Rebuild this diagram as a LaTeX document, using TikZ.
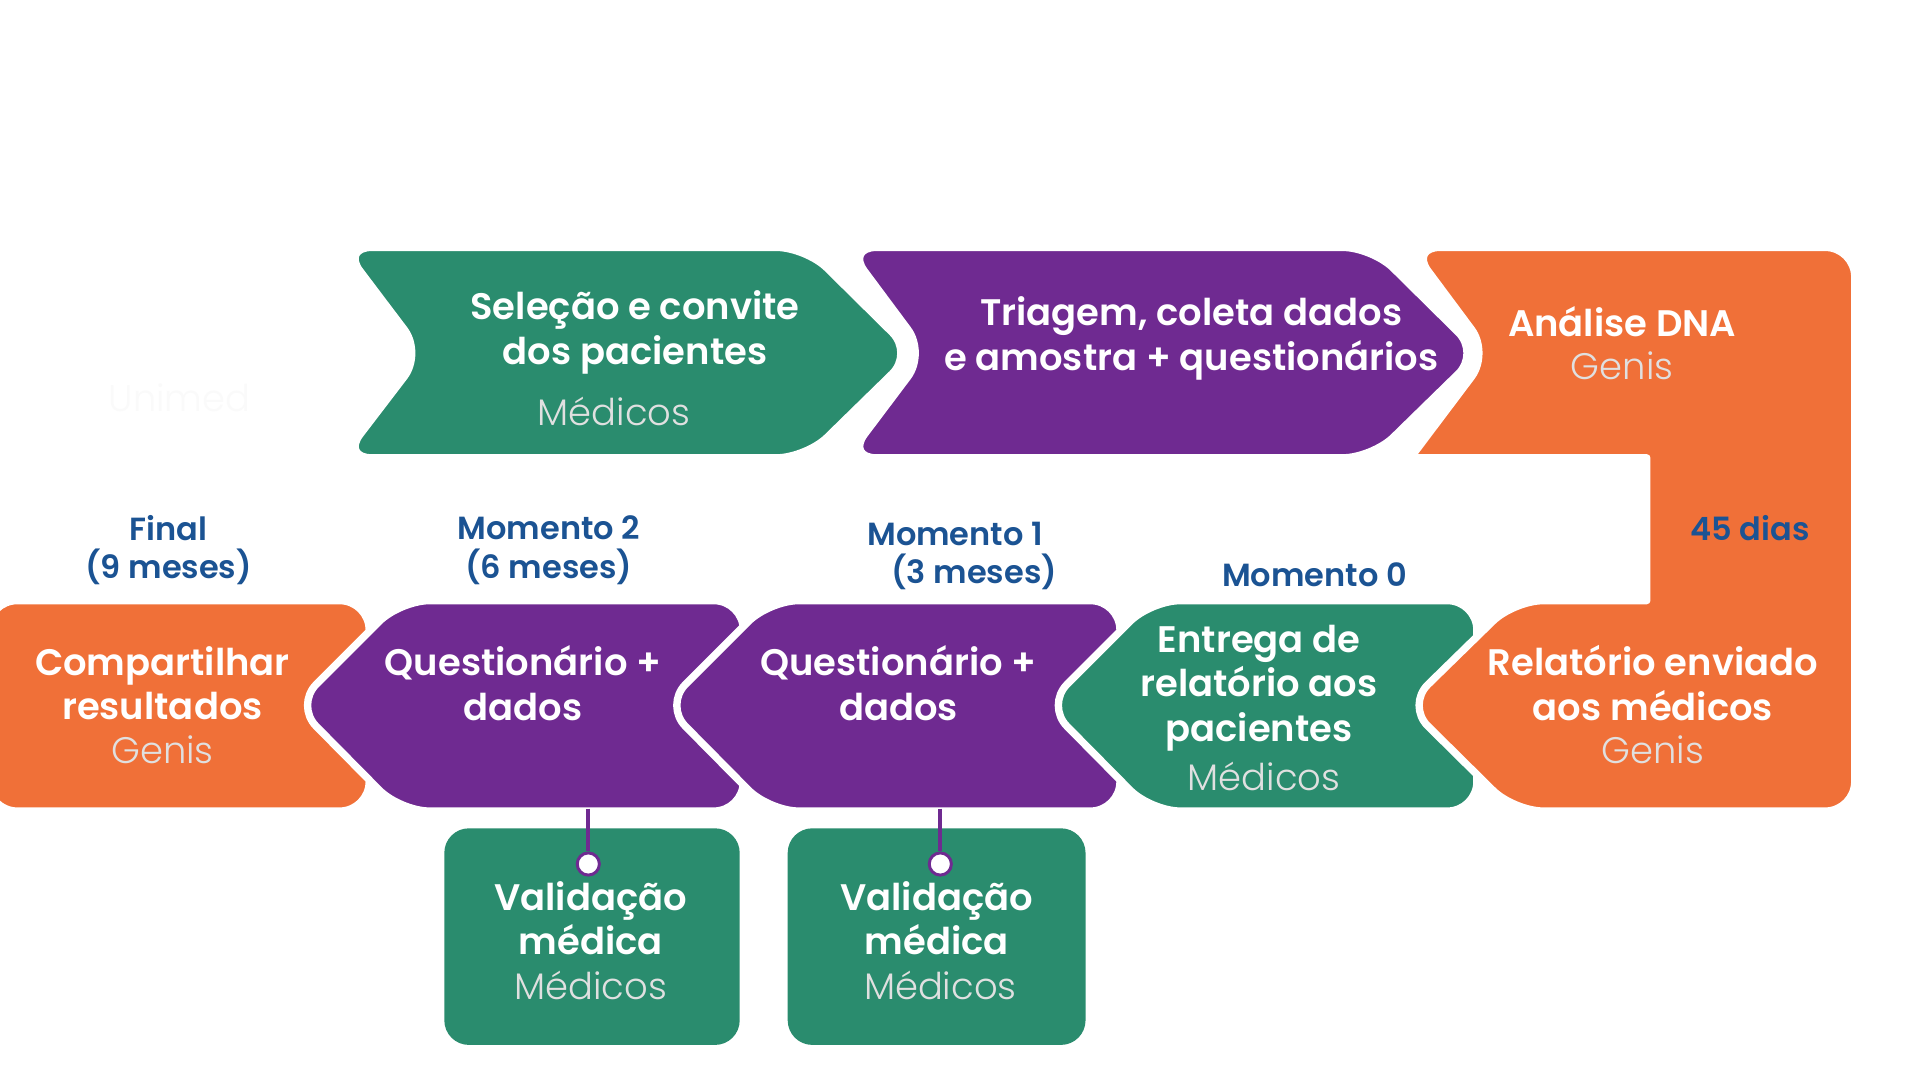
\documentclass[tikz,border=0pt]{standalone}
\usepackage{fontspec}
\setmainfont{Poppins}[BoldFont={Poppins SemiBold}]
\newfontfamily\lightfont{Poppins Light}
\definecolor{gverde}{HTML}{2A8C6E}
\definecolor{groxo}{HTML}{6F2A91}
\definecolor{glaranja}{HTML}{F07038}
\definecolor{gazul}{HTML}{1B5393}
\tikzset{every picture/.style={line width=0.75pt}}
\tikzset{
  etapa/.style={draw=white, line width=3pt, rounded corners=12pt, line join=round},
  titulo/.style={text=white, font=\bfseries\fontsize{15}{18}\selectfont, align=center, inner sep=0pt},
  quem/.style={text=white!88!black, font=\lightfont\fontsize{15}{18}\selectfont, inner sep=0pt},
  marco/.style={text=gazul, font=\bfseries\fontsize{13}{15.5}\selectfont, align=center, inner sep=0pt},
  pino/.style={circle, draw=groxo, fill=white, line width=1.2pt, minimum size=9pt, inner sep=0pt}
}
\begin{document}
\begin{tikzpicture}[x=0.5pt,y=-0.5pt]
	\useasboundingbox[fill=white] (0,0) rectangle (1560,877.5);
	% Top row
	\fill[gverde, etapa] (278,201) -- (655,201) -- (742,287) -- (655,372) -- (278,372) -- (343,287) -- cycle;
	\fill[groxo, etapa] (688,201) -- (1115,201) -- (1202,287) -- (1115,372) -- (688,372) -- (752,287) -- cycle;
	% Bottom row, left to right
	\fill[glaranja, etapa] (-10,488) -- (300,488) -- (300,659) -- (-10,659) -- cycle;
	\fill[groxo, etapa] (325,488) -- (604,488) -- (604,659) -- (325,659) -- (240,573) -- cycle;
	\fill[groxo, etapa] (625,488) -- (910,488) -- (910,659) -- (625,659) -- (540,573) -- cycle;
	\fill[gverde, etapa] (935,488) -- (1200,488) -- (1200,659) -- (935,659) -- (850,573) -- cycle;
	% Orange L shape
	\fill[glaranja, etapa] (1146,201) -- (1507,201) -- (1507,659) -- (1230,659) -- (1143,573) -- (1230,488) [sharp corners] -- (1338,488) -- (1338,372) -- (1146,372) [rounded corners=12pt] -- (1210,287) -- cycle;
	% Validation boxes
	\fill[gverde, rounded corners=10pt] (361,673) rectangle (601,849);
	\fill[gverde, rounded corners=10pt] (640,673) rectangle (882,849);

	% Texts
	\node[titulo] (selecao) at (516,270) {Seleção e convite\\dos pacientes};
	\node[quem] (selecaoq) at (499,334) {Médicos};
	\node[titulo] (triagem) at (968,275) {Triagem, coleta dados\\e amostra + questionários};
	\node[titulo] (dna) at (1318,261) {Análise DNA};
	\node[quem] (dnaq) at (1318,297) {Genis};
	\node[text=white!96!gray, font=\lightfont\fontsize{15}{18}\selectfont] (unimed) at (146,323) {Unimed};
	\node[marco] (dias) at (1422,429) {45 dias};
	\node[titulo] (relatorio) at (1343,555) {Relatório enviado\\aos médicos};
	\node[quem] (relatorioq) at (1343,609) {Genis};
	\node[titulo] (entrega) at (1023,559) {Entrega de\\relatório aos\\pacientes};
	\node[quem] (entregaq) at (1027,631) {Médicos};
	\node[titulo] (quest1) at (730,555) {Questionário +\\dados};
	\node[titulo] (quest2) at (425,555) {Questionário +\\dados};
	\node[titulo] (compart) at (132,555) {Compartilhar\\resultados};
	\node[quem] (compartq) at (132,609) {Genis};
	\node[marco] (m0) at (1068,467) {Momento 0};
	\node[marco] (m1) at (776,452) {Momento 1\\\hspace*{1.2em}(3 meses)};
	\node[marco] (m2) at (446,447) {Momento 2\\(6 meses)};
	\node[marco] (fim) at (137,447) {Final\\(9 meses)};
	\node[titulo] (valid2) at (480,746) {Validação\\médica};
	\node[quem] (valid2q) at (480,801) {Médicos};
	\node[titulo] (valid1) at (761,746) {Validação\\médica};
	\node[quem] (valid1q) at (764,801) {Médicos};

	% Connectors
	\coordinate (q2base) at (478,657);
	\coordinate (q1base) at (764,657);
	\node[pino] (pino2) at (478,702) {};
	\node[pino] (pino1) at (764,702) {};
	\draw[groxo, line width=1.5pt] (q2base) -- (pino2);
	\draw[groxo, line width=1.5pt] (q1base) -- (pino1);
\end{tikzpicture}
\end{document}
